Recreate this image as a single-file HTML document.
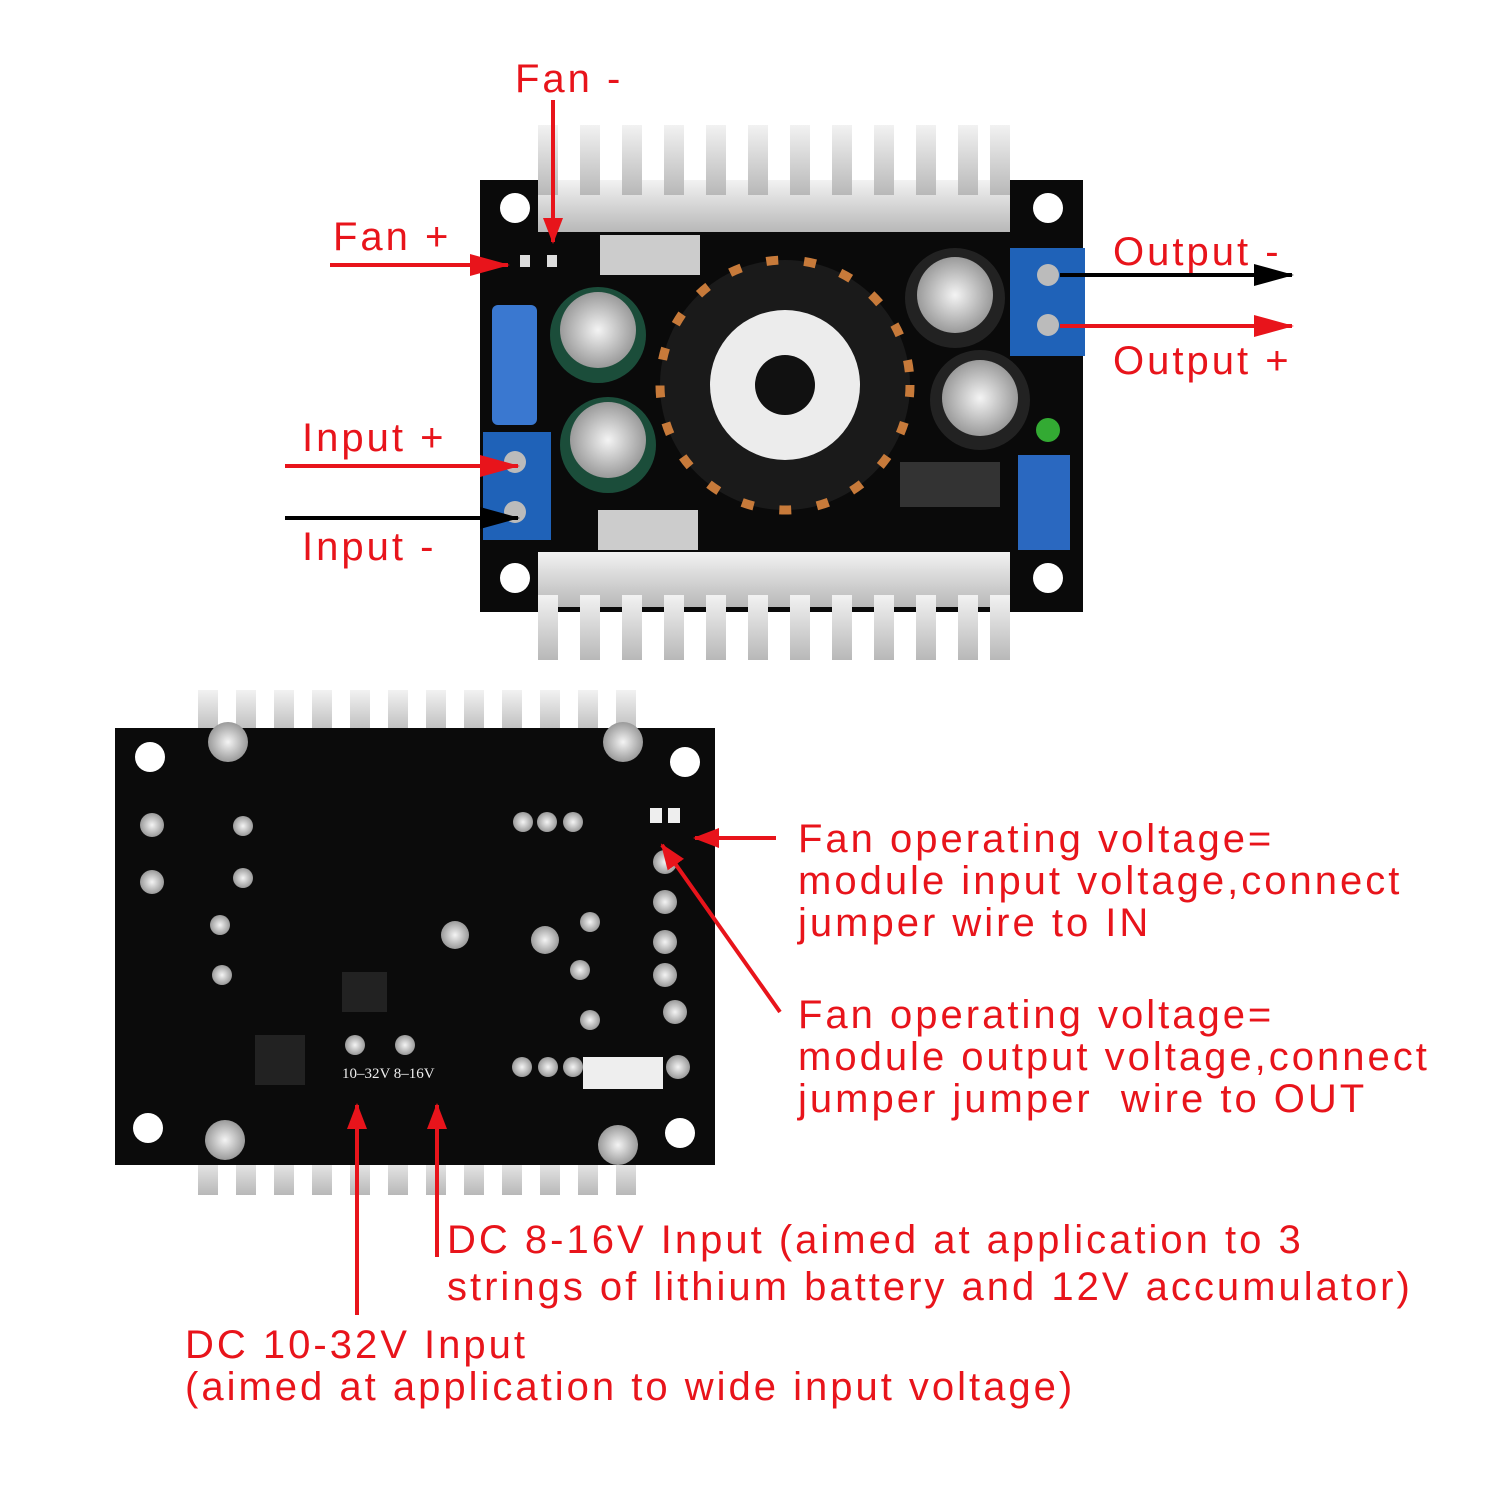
<!DOCTYPE html>
<html><head><meta charset="utf-8"><style>
html,body{margin:0;padding:0;background:#fff;}
svg{display:block}
text{font-family:"Liberation Sans",sans-serif;fill:#e8141b;font-size:40px;letter-spacing:3px}
</style></head><body>
<svg width="1500" height="1500" viewBox="0 0 1500 1500" xmlns="http://www.w3.org/2000/svg">
<defs>
<linearGradient id="al" x1="0" x2="0" y1="0" y2="1"><stop offset="0" stop-color="#f2f2f2"/><stop offset="1" stop-color="#b8b8b8"/></linearGradient>
<radialGradient id="cap"><stop offset="0" stop-color="#f4f4f4"/><stop offset="1" stop-color="#9a9a9a"/></radialGradient>
<marker id="arr" markerWidth="40" markerHeight="22" refX="38" refY="11" orient="auto" markerUnits="userSpaceOnUse"><path d="M0,0 L40,11 L0,22z" fill="#e8141b"/></marker>
<marker id="abb" markerWidth="40" markerHeight="22" refX="38" refY="11" orient="auto" markerUnits="userSpaceOnUse"><path d="M0,0 L40,11 L0,22z" fill="#000"/></marker>
<marker id="ars" markerWidth="26" markerHeight="20" refX="24" refY="10" orient="auto" markerUnits="userSpaceOnUse"><path d="M0,0 L26,10 L0,20z" fill="#e8141b"/></marker>
</defs>

<!-- TOP BOARD -->
<rect x="480" y="180" width="603" height="432" fill="#0a0a0a"/>
<g fill="url(#al)">
<rect x="538" y="180" width="472" height="52"/>
<rect x="538" y="125" width="20" height="70"/><rect x="580" y="125" width="20" height="70"/><rect x="622" y="125" width="20" height="70"/><rect x="664" y="125" width="20" height="70"/><rect x="706" y="125" width="20" height="70"/><rect x="748" y="125" width="20" height="70"/><rect x="790" y="125" width="20" height="70"/><rect x="832" y="125" width="20" height="70"/><rect x="874" y="125" width="20" height="70"/><rect x="916" y="125" width="20" height="70"/><rect x="958" y="125" width="20" height="70"/><rect x="990" y="125" width="20" height="70"/>
<rect x="538" y="552" width="472" height="55"/>
<rect x="538" y="595" width="20" height="65"/><rect x="580" y="595" width="20" height="65"/><rect x="622" y="595" width="20" height="65"/><rect x="664" y="595" width="20" height="65"/><rect x="706" y="595" width="20" height="65"/><rect x="748" y="595" width="20" height="65"/><rect x="790" y="595" width="20" height="65"/><rect x="832" y="595" width="20" height="65"/><rect x="874" y="595" width="20" height="65"/><rect x="916" y="595" width="20" height="65"/><rect x="958" y="595" width="20" height="65"/><rect x="990" y="595" width="20" height="65"/>
</g>
<g fill="#fff"><circle cx="515" cy="208" r="15"/><circle cx="1048" cy="208" r="15"/><circle cx="515" cy="578" r="15"/><circle cx="1048" cy="578" r="15"/></g>
<rect x="1010" y="248" width="75" height="108" fill="#1f62b8"/>
<circle cx="1048" cy="275" r="11" fill="#bbb"/><circle cx="1048" cy="325" r="11" fill="#bbb"/>
<rect x="483" y="432" width="68" height="108" fill="#1f62b8"/>
<circle cx="515" cy="462" r="11" fill="#bbb"/><circle cx="515" cy="512" r="11" fill="#bbb"/>
<rect x="492" y="305" width="45" height="120" rx="6" fill="#3a78d0"/>
<rect x="1018" y="455" width="52" height="95" fill="#2a68c0"/>
<rect x="520" y="255" width="10" height="12" fill="#ddd"/><rect x="547" y="255" width="10" height="12" fill="#ddd"/>
<circle cx="785" cy="385" r="125" fill="#1a1a1a"/>
<circle cx="785" cy="385" r="125" fill="none" stroke="#c77a3a" stroke-width="9" stroke-dasharray="12 26"/>
<circle cx="785" cy="385" r="75" fill="#ececec"/><circle cx="785" cy="385" r="30" fill="#111"/>
<circle cx="598" cy="335" r="48" fill="#1b4d3a"/><circle cx="598" cy="330" r="38" fill="url(#cap)"/>
<circle cx="608" cy="445" r="48" fill="#1b4d3a"/><circle cx="608" cy="440" r="38" fill="url(#cap)"/>
<circle cx="955" cy="298" r="50" fill="#222"/><circle cx="955" cy="295" r="38" fill="url(#cap)"/>
<circle cx="980" cy="400" r="50" fill="#222"/><circle cx="980" cy="398" r="38" fill="url(#cap)"/>
<circle cx="1048" cy="430" r="12" fill="#3a3"/>
<rect x="900" y="462" width="100" height="45" fill="#333"/>
<rect x="600" y="235" width="100" height="40" fill="#ccc"/><rect x="598" y="510" width="100" height="40" fill="#ccc"/>

<!-- BOTTOM BOARD -->
<g fill="url(#al)">
<rect x="198" y="690" width="20" height="45"/><rect x="236" y="690" width="20" height="45"/><rect x="274" y="690" width="20" height="45"/><rect x="312" y="690" width="20" height="45"/><rect x="350" y="690" width="20" height="45"/><rect x="388" y="690" width="20" height="45"/><rect x="426" y="690" width="20" height="45"/><rect x="464" y="690" width="20" height="45"/><rect x="502" y="690" width="20" height="45"/><rect x="540" y="690" width="20" height="45"/><rect x="578" y="690" width="20" height="45"/><rect x="616" y="690" width="20" height="45"/>
<rect x="198" y="1155" width="20" height="40"/><rect x="236" y="1155" width="20" height="40"/><rect x="274" y="1155" width="20" height="40"/><rect x="312" y="1155" width="20" height="40"/><rect x="350" y="1155" width="20" height="40"/><rect x="388" y="1155" width="20" height="40"/><rect x="426" y="1155" width="20" height="40"/><rect x="464" y="1155" width="20" height="40"/><rect x="502" y="1155" width="20" height="40"/><rect x="540" y="1155" width="20" height="40"/><rect x="578" y="1155" width="20" height="40"/><rect x="616" y="1155" width="20" height="40"/>
</g>
<rect x="115" y="728" width="600" height="437" fill="#0b0b0b"/>
<g fill="#fff"><circle cx="150" cy="757" r="15"/><circle cx="685" cy="762" r="15"/><circle cx="148" cy="1128" r="15"/><circle cx="680" cy="1133" r="15"/></g>
<g fill="url(#cap)"><circle cx="228" cy="742" r="20"/><circle cx="623" cy="742" r="20"/><circle cx="225" cy="1140" r="20"/><circle cx="618" cy="1145" r="20"/>
<circle cx="152" cy="825" r="12"/><circle cx="152" cy="882" r="12"/><circle cx="243" cy="826" r="10"/><circle cx="243" cy="878" r="10"/><circle cx="220" cy="925" r="10"/><circle cx="222" cy="975" r="10"/><circle cx="455" cy="935" r="14"/><circle cx="545" cy="940" r="14"/><circle cx="590" cy="922" r="10"/><circle cx="580" cy="970" r="10"/><circle cx="590" cy="1020" r="10"/><circle cx="523" cy="822" r="10"/><circle cx="547" cy="822" r="10"/><circle cx="573" cy="822" r="10"/><circle cx="665" cy="862" r="12"/><circle cx="665" cy="902" r="12"/><circle cx="665" cy="942" r="12"/><circle cx="665" cy="975" r="12"/><circle cx="675" cy="1012" r="12"/><circle cx="678" cy="1067" r="12"/><circle cx="522" cy="1067" r="10"/><circle cx="548" cy="1067" r="10"/><circle cx="573" cy="1067" r="10"/><circle cx="355" cy="1045" r="10"/><circle cx="405" cy="1045" r="10"/></g>
<rect x="583" y="1057" width="80" height="32" fill="#eee"/>
<rect x="255" y="1035" width="50" height="50" fill="#222"/>
<rect x="342" y="972" width="45" height="40" fill="#222"/>
<text x="342" y="1078" style="font-family:'Liberation Serif',serif;fill:#eee;font-size:15px;letter-spacing:0">10–32V 8–16V</text>
<rect x="650" y="808" width="12" height="15" fill="#eee"/><rect x="668" y="808" width="12" height="15" fill="#eee"/>

<text x="515" y="92">Fan -</text>
<text x="333" y="250">Fan +</text>
<text x="1113" y="265">Output -</text>
<text x="1113" y="374">Output +</text>
<text x="302" y="451">Input +</text>
<text x="302" y="560">Input -</text>
<line x1="553" y1="100" x2="553" y2="242" stroke="#e8141b" stroke-width="4" marker-end="url(#ars)"/>
<line x1="330" y1="265" x2="508" y2="265" stroke="#e8141b" stroke-width="4" marker-end="url(#arr)"/>
<line x1="1060" y1="275" x2="1292" y2="275" stroke="#000" stroke-width="4" marker-end="url(#abb)"/>
<line x1="1060" y1="326" x2="1292" y2="326" stroke="#e8141b" stroke-width="4" marker-end="url(#arr)"/>
<line x1="285" y1="466" x2="518" y2="466" stroke="#e8141b" stroke-width="4" marker-end="url(#arr)"/>
<line x1="285" y1="518" x2="518" y2="518" stroke="#000" stroke-width="4" marker-end="url(#abb)"/>

<text x="798" y="852">Fan operating voltage=</text>
<text x="798" y="894">module input voltage,connect</text>
<text x="798" y="936">jumper wire to IN</text>
<text x="798" y="1028">Fan operating voltage=</text>
<text x="798" y="1070">module output voltage,connect</text>
<text x="798" y="1112">jumper jumper &#160;wire to OUT</text>
<text x="447" y="1253">DC 8-16V Input (aimed at application to 3</text>
<text x="447" y="1300">strings of lithium battery and 12V accumulator)</text>
<text x="185" y="1358">DC 10-32V Input</text>
<text x="185" y="1400">(aimed at application to wide input voltage)</text>
<line x1="776" y1="838" x2="695" y2="838" stroke="#e8141b" stroke-width="4" marker-end="url(#ars)"/>
<line x1="780" y1="1012" x2="662" y2="845" stroke="#e8141b" stroke-width="4" marker-end="url(#ars)"/>
<line x1="357" y1="1315" x2="357" y2="1105" stroke="#e8141b" stroke-width="4" marker-end="url(#ars)"/>
<line x1="437" y1="1257" x2="437" y2="1105" stroke="#e8141b" stroke-width="4" marker-end="url(#ars)"/>
</svg>
</body></html>
